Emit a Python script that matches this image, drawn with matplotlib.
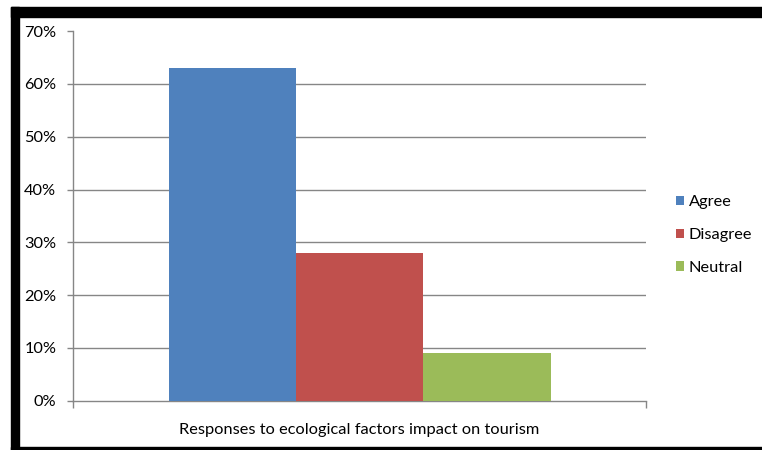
import matplotlib.pyplot as plt
from matplotlib.patches import Rectangle

categories = ["Responses to ecological factors impact on tourism"]
series = ["Agree", "Disagree", "Neutral"]
values = [63, 28, 9]
colors = ["#4F81BD", "#C0504D", "#9BBB59"]
yticks = [0, 10, 20, 30, 40, 50, 60, 70]

plt.rcParams['font.family'] = ['Lato', 'DejaVu Sans']
fs = 11.8

W, H = 762, 450
fig = plt.figure(figsize=(W / 100, H / 100), dpi=100)
ax = fig.add_axes([73 / W, 1 - 400.7 / H, (646 - 73) / W, (400.7 - 31.2) / H])

# bars: gap width 150% like excel
bw = 1 / 4.5
for i, (s, v, c) in enumerate(zip(series, values, colors)):
    ax.bar((i - 1) * bw, v, width=bw, color=c, label=s, zorder=3)

ax.set_xlim(-0.5, 0.5)
ax.set_ylim(0, 70)
ax.set_yticks(yticks)
ax.set_yticklabels([f"{t}%" for t in yticks], fontsize=fs)
for t in yticks[1:-1]:
    ax.axhline(t, color="#868686", lw=1, zorder=1)

ax.set_xticks([0])
ax.set_xticklabels(categories, fontsize=fs)
ax.tick_params(axis="x", length=0, pad=16)
ax.set_xticks([-0.5, 0.5], minor=True)
ax.tick_params(axis="x", which="minor", length=5, color="#868686", width=1)
ax.tick_params(axis="y", length=4, color="#868686", width=1, pad=8)

for side in ["top", "right"]:
    ax.spines[side].set_visible(False)
for side in ["left", "bottom"]:
    ax.spines[side].set_color("#868686")
    ax.spines[side].set_linewidth(1)

fig.legend(loc="center left", bbox_to_anchor=(668 / W, 1 - 235 / H), frameon=False,
           fontsize=fs, handlelength=0.5, handleheight=0.5, handletextpad=0.25,
           labelspacing=1.15, borderpad=0)

# black frame around the picture
fig.patches.append(Rectangle((11 / W, 1 - 17 / H), 1, 10 / H, transform=fig.transFigure,
                             color="black", zorder=10))
fig.patches.append(Rectangle((11 / W, 0), 8 / W, 1 - 7 / H, transform=fig.transFigure,
                             color="black", zorder=10))
fig.patches.append(Rectangle((11 / W, 0), 1, 3 / H, transform=fig.transFigure,
                             color="black", zorder=10))

fig.savefig("out.png", dpi=100)
